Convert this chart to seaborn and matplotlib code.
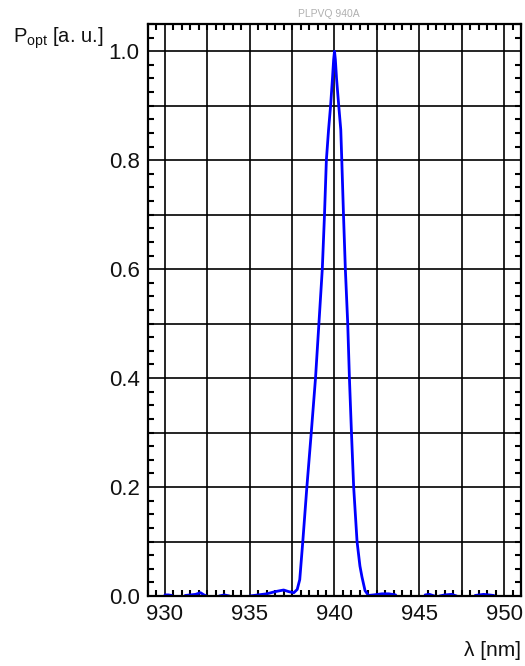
import matplotlib
matplotlib.use("Agg")
import matplotlib.pyplot as plt
import seaborn as sns
import pandas as pd
from matplotlib.ticker import MultipleLocator

# ---- data ----
wavelength_nm = [
    930.0, 930.2, 930.4, 930.6, 931.0, 931.2, 931.5, 931.8, 932.1, 932.3,
    932.45, 932.6, 933.0, 933.2, 933.5, 933.8, 934.0, 934.8, 935.0, 935.5,
    936.0, 936.5, 937.0, 937.3, 937.6, 937.8, 937.95, 938.13, 938.37, 938.63,
    938.88, 939.08, 939.28, 939.41, 939.52, 939.65, 939.77, 939.88, 939.95, 940.0,
    940.05, 940.12, 940.25, 940.37, 940.43, 940.53, 940.64, 940.78, 940.88, 941.0,
    941.13, 941.33, 941.5, 941.62, 941.8, 942.0, 942.3, 942.8, 943.2, 943.6,
    943.8, 945.2, 945.35, 945.6, 945.9, 946.05, 946.2, 946.5, 946.9, 947.2,
    947.4, 948.1, 948.3, 948.8, 949.4,
]
p_opt = [
    0.002, 0.002, 0.001, -0.01, -0.01, 0.001, 0.002, 0.003, 0.006, 0.002,
    0.0, -0.01, -0.01, 0.0, 0.002, 0.0, -0.01, -0.01, 0.0, 0.002,
    0.004, 0.008, 0.011, 0.008, 0.006, 0.012, 0.03, 0.1, 0.2, 0.3,
    0.4, 0.5, 0.6, 0.7, 0.8, 0.856, 0.9, 0.95, 0.985, 1.0,
    0.985, 0.95, 0.9, 0.856, 0.8, 0.7, 0.6, 0.5, 0.4, 0.3,
    0.2, 0.1, 0.055, 0.035, 0.01, 0.001, 0.002, 0.004, 0.004, 0.002,
    -0.01, -0.01, 0.002, 0.003, 0.0, -0.01, 0.0, 0.002, 0.003, 0.0,
    -0.01, -0.01, 0.001, 0.003, 0.001,
]
x_ticks = [930, 935, 940, 945, 950]
y_ticks = [0.0, 0.2, 0.4, 0.6, 0.8, 1.0]
title_text = "PLPVQ 940A"
x_label = "λ [nm]"
y_label = r"P$_{\mathregular{opt}}$ [a. u.]"

df = pd.DataFrame({"wl": wavelength_nm, "p": p_opt})

sns.set_style("white")
plt.rcParams["font.family"] = ["Liberation Sans", "DejaVu Sans"]
plt.rcParams["mathtext.fontset"] = "custom"
plt.rcParams["mathtext.rm"] = "Liberation Sans"

fig = plt.figure(figsize=(5.25, 6.66), dpi=100)
ax = fig.add_axes([148 / 525, 1 - 596 / 666, (521 - 148) / 525, (596 - 24) / 666])

sns.lineplot(data=df, x="wl", y="p", ax=ax, color="#0000ff", linewidth=2.0,
             sort=False, estimator=None, zorder=3)

ax.set_xlim(929, 951)
ax.set_ylim(0, 1.05)
ax.set_xticks(x_ticks)
ax.set_yticks(y_ticks)
ax.set_xticklabels([str(v) for v in x_ticks])
ax.set_yticklabels([f"{v:.1f}" for v in y_ticks])
ax.xaxis.set_minor_locator(MultipleLocator(0.5))
ax.yaxis.set_minor_locator(MultipleLocator(0.025))

# grid every 2.5 nm / 0.1
for gx in [930 + 2.5 * i for i in range(9)]:
    ax.axvline(gx, color="black", lw=1.2, zorder=1)
for gy in [0.1 * i for i in range(1, 11)]:
    ax.axhline(gy, color="black", lw=1.2, zorder=1)

ax.tick_params(axis="both", which="major", direction="in", length=0,
               labelsize=16, pad=6, top=True, right=True, labelcolor="#111111")
ax.tick_params(axis="both", which="minor", direction="in", length=4, width=1.5,
               color="black", top=True, right=True, bottom=True, left=True)
for s in ax.spines.values():
    s.set_color("black")
    s.set_linewidth(1.6)
    s.set_zorder(4)

ax.set_xlabel("")
ax.set_ylabel("")
fig.text(521 / 525, 1 - 650 / 666, x_label, ha="right", va="center", fontsize=15,
         color="#111111")
fig.text(13 / 525, 1 - 38 / 666, y_label, ha="left", va="center", fontsize=14.5,
         color="#111111")
fig.text(329 / 525, 1 - 14 / 666, title_text, ha="center", va="center",
         fontsize=7.5, color="#b0b0b0")

fig.savefig("out.png", dpi=100)
